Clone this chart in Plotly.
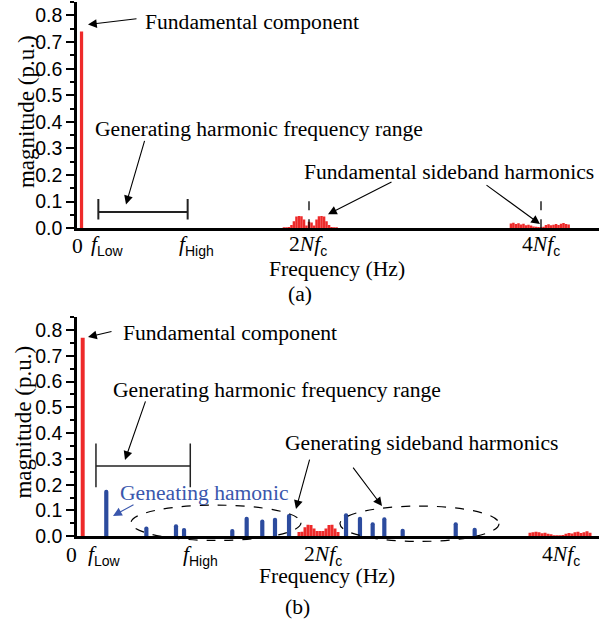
import plotly.graph_objects as go

# ---------------- data (frequency in units of N*fc, magnitude in p.u.) ----------------
# Panel (a)
fund_a_x = [0.039]
fund_a_y = [0.74]
sb2_a_x = [1.784, 1.806, 1.827, 1.849, 1.870, 1.892, 1.914, 1.935, 1.957, 1.978, 2.000,
           2.022, 2.043, 2.065, 2.086, 2.108, 2.130, 2.151, 2.173, 2.194, 2.216, 2.238]
sb2_a_y = [0.002, 0.003, 0.005, 0.012, 0.026, 0.044, 0.046, 0.045, 0.033, 0.010, 0.024,
           0.022, 0.010, 0.033, 0.045, 0.046, 0.044, 0.026, 0.012, 0.005, 0.003, 0.002]
sb4_a_x = [3.741, 3.762, 3.784, 3.806, 3.827, 3.849, 3.870, 3.892, 3.914, 3.935, 3.957, 3.978,
           4.000, 4.022, 4.043, 4.065, 4.086, 4.108, 4.130, 4.151, 4.173, 4.194, 4.216, 4.238]
sb4_a_y = [0.018, 0.021, 0.016, 0.019, 0.014, 0.017, 0.011, 0.013, 0.010, 0.007, 0.006, 0.005,
           0.004, 0.006, 0.012, 0.015, 0.011, 0.013, 0.016, 0.012, 0.017, 0.020, 0.016, 0.014]
tick_a_x = [0, 0.259, 1.026, 1.991, 4.0]

# Panel (b)
fund_b_x = [0.0225]
fund_b_y = [0.77]
gen_b_x = [0.219, 0.553, 0.800, 0.867, 1.269, 1.389, 1.519, 1.625, 1.742,
           2.217, 2.333, 2.439, 2.536, 2.689, 3.131, 3.289]
gen_b_y = [0.180, 0.038, 0.047, 0.032, 0.028, 0.076, 0.065, 0.072, 0.086,
           0.089, 0.076, 0.054, 0.074, 0.029, 0.054, 0.033]
sb2_b_x = [1.825, 1.850, 1.875, 1.900, 1.925, 1.950, 1.975, 2.000, 2.025, 2.050, 2.075, 2.100, 2.125, 2.150]
sb2_b_y = [0.017, 0.018, 0.035, 0.045, 0.044, 0.030, 0.020, 0.020, 0.020, 0.030, 0.044, 0.045, 0.030, 0.017]
sb4_b_x = [3.750, 3.775, 3.800, 3.825, 3.850, 3.875, 3.900, 3.925, 3.950, 3.975, 4.000,
           4.025, 4.050, 4.075, 4.100, 4.125, 4.150, 4.175, 4.200, 4.225, 4.250]
sb4_b_y = [0.014, 0.016, 0.018, 0.016, 0.012, 0.014, 0.010, 0.008, 0.004, 0.003, 0.004,
           0.005, 0.010, 0.013, 0.011, 0.016, 0.018, 0.013, 0.016, 0.019, 0.014]
tick_b_x = [-0.075, 0.2, 1.0, 2.025, 4.008]

range_a = [0.184, 0.954]
range_b = [0.133, 0.919]

tick_text = ["0",
             "<i>f</i><sub><span style='font-family:Liberation Sans;font-size:14px'>Low</span></sub>",
             "<i>f</i><sub><span style='font-family:Liberation Sans;font-size:14px'>High</span></sub>",
             "2<i>Nf</i><sub><span style='font-family:Liberation Sans;font-size:14px'>c</span></sub>",
             "4<i>Nf</i><sub><span style='font-family:Liberation Sans;font-size:14px'>c</span></sub>"]

# ---------------- layout geometry ----------------
W, H = 602, 635
ML, MR = 77, 3
PW = W - ML - MR
XA_RANGE = [0, 4.5]
XB_RANGE = [-0.025, 4.325]
YRANGE = [0, 0.85]
YA_DOM = [0.6342, 0.9965]
YB_DOM = [0.1406, 0.4917]

RED = "#ee2a2a"
BLUE = "#2c4b9e"
SERIF = "Liberation Serif"
FS = 21.6


def pix(x, y):
    return (x - ML) / PW, (H - y) / H


def to_paper_x(x, rng):
    return (x - rng[0]) / (rng[1] - rng[0])


fig = go.Figure()

# panel a
fig.add_trace(go.Bar(x=fund_a_x, y=fund_a_y, width=0.028, marker=dict(color=RED, line=dict(width=0)),
                     xaxis="x", yaxis="y"))
fig.add_trace(go.Bar(x=sb2_a_x, y=sb2_a_y, width=0.0216, marker=dict(color=RED, line=dict(width=0)),
                     xaxis="x", yaxis="y"))
fig.add_trace(go.Bar(x=sb4_a_x, y=sb4_a_y, width=0.0216, marker=dict(color=RED, line=dict(width=0)),
                     xaxis="x", yaxis="y"))
# panel b
fig.add_trace(go.Bar(x=fund_b_x, y=fund_b_y, width=0.033, marker=dict(color=RED, line=dict(width=0)),
                     xaxis="x2", yaxis="y2"))
fig.add_trace(go.Bar(x=sb2_b_x, y=sb2_b_y, width=0.025, marker=dict(color=RED, line=dict(width=0)),
                     xaxis="x2", yaxis="y2"))
fig.add_trace(go.Bar(x=sb4_b_x, y=sb4_b_y, width=0.025, marker=dict(color=RED, line=dict(width=0)),
                     xaxis="x2", yaxis="y2"))
fig.add_trace(go.Bar(x=gen_b_x, y=gen_b_y, width=0.035,
                     marker=dict(color=BLUE, line=dict(width=0), cornerradius=2),
                     xaxis="x2", yaxis="y2"))

xcommon = dict(showline=True, linewidth=2.5, linecolor="black", ticks="", showticklabels=False,
               showgrid=False, zeroline=False, domain=[0, 1], fixedrange=True)
ycommon = dict(showline=True, linewidth=2.5, linecolor="black", ticks="outside", ticklen=8,
               tickwidth=2, tickcolor="black", showgrid=False, zeroline=False, range=YRANGE,
               tick0=0, dtick=0.1, tickformat=".1f",
               tickfont=dict(family="Liberation Sans", size=19.5, color="black"),
               minor=dict(ticks="outside", ticklen=4, tickwidth=2, tickcolor="black", dtick=0.05,
                          showgrid=False))

fig.update_layout(
    width=W, height=H,
    margin=dict(l=ML, r=MR, t=0, b=0, pad=0),
    paper_bgcolor="white", plot_bgcolor="white",
    showlegend=False, barmode="overlay",
    xaxis=dict(**xcommon, range=XA_RANGE, anchor="y"),
    yaxis=dict(**ycommon, domain=YA_DOM, anchor="x"),
    xaxis2=dict(**xcommon, range=XB_RANGE, anchor="y2"),
    yaxis2=dict(**ycommon, domain=YB_DOM, anchor="x2"),
)

shapes = []
# range bars
for rng, yv, cap, xr, yr, lw in [(range_a, 0.061, (0.033, 0.11), "x", "y", 2),
                                  (range_b, 0.273, (0.19, 0.36), "x2", "y2", 1.5)]:
    shapes.append(dict(type="line", xref=xr, yref=yr, x0=rng[0], x1=rng[1], y0=yv, y1=yv,
                       line=dict(color="#222", width=lw)))
    for xv in rng:
        shapes.append(dict(type="line", xref=xr, yref=yr, x0=xv, x1=xv, y0=cap[0], y1=cap[1],
                           line=dict(color="#222", width=lw)))
# dashed markers at 2Nfc and 4Nfc (panel a)
for xv, top in [(2.0, 0.108), (4.0, 0.104)]:
    shapes.append(dict(type="line", xref="x", yref="y", x0=xv, x1=xv, y0=0, y1=top,
                       line=dict(color="black", width=1.3, dash="dash")))
# dashed ellipses (panel b), in pixel positions
for (x0, y0, x1, y1) in [(131, 514, 301, 550), (340, 515, 499, 551)]:
    px0, py0 = pix(x0, y1)
    px1, py1 = pix(x1, y0)
    shapes.append(dict(type="circle", xref="paper", yref="paper", x0=px0, y0=py0, x1=px1, y1=py1,
                       line=dict(color="black", width=1.2, dash="dash")))
fig.update_layout(shapes=shapes)

ann = []


def text(s, x, y, anchor="left", color="black", size=FS, angle=0):
    px, py = pix(x, y)
    ann.append(dict(text=s, x=px, y=py, xref="paper", yref="paper", xanchor=anchor,
                    yanchor="middle", showarrow=False, textangle=angle,
                    font=dict(family=SERIF, size=size, color=color)))


def arrow(tx, ty, hx, hy, color="black"):
    px, py = pix(hx, hy)
    ann.append(dict(text="", x=px, y=py, xref="paper", yref="paper", ax=tx - hx, ay=ty - hy,
                    axref="pixel", ayref="pixel", showarrow=True, arrowhead=2, arrowsize=1.6,
                    arrowwidth=1.1, arrowcolor=color, standoff=0, startstandoff=0))


# x tick labels
for xv, t in zip(tick_a_x, tick_text):
    ann.append(dict(text=t, x=to_paper_x(xv, XA_RANGE), y=pix(0, 250)[1], xref="paper", yref="paper",
                    xanchor="center", yanchor="middle", showarrow=False,
                    font=dict(family=SERIF, size=FS, color="black")))
for xv, t in zip(tick_b_x, tick_text):
    ann.append(dict(text=t, x=to_paper_x(xv, XB_RANGE), y=pix(0, 565)[1], xref="paper", yref="paper",
                    xanchor="center", yanchor="middle", showarrow=False,
                    font=dict(family=SERIF, size=FS, color="black")))

# axis titles
text("Frequency (Hz)", 336.5, 274, anchor="center")
text("Frequency (Hz)", 326.7, 586, anchor="center")
text("magnitude (p.u.)", 26, 114, anchor="center", size=23, angle=-90)
text("magnitude (p.u.)", 24, 430, anchor="center", size=23, angle=-90)
text("(a)", 300, 299, anchor="center")
text("(b)", 297, 618, anchor="center")

# panel a annotations
text("Fundamental component", 143, 22.5)
arrow(138, 19, 88, 25)
text("Generating harmonic frequency range", 93, 131.5)
arrow(145, 143, 126, 208)
text("Fundamental sideband harmonics", 302, 175)
arrow(393, 185, 328, 218)
arrow(485, 188, 540, 228)

# panel b annotations
text("Fundamental component", 121, 338.5)
arrow(113, 337, 88, 343)
text("Generating harmonic frequency range", 111, 397)
arrow(146, 408, 125, 468)
text("Geneating hamonic", 118, 501.5, color="#3a57ad")
arrow(135, 513, 113, 525, color="#3a57ad")
text("Generating sideband harmonics", 283, 451)
arrow(310, 467, 296, 518)
arrow(352, 475, 382, 515)

fig.update_layout(annotations=ann)

fig.write_html("out.html")
